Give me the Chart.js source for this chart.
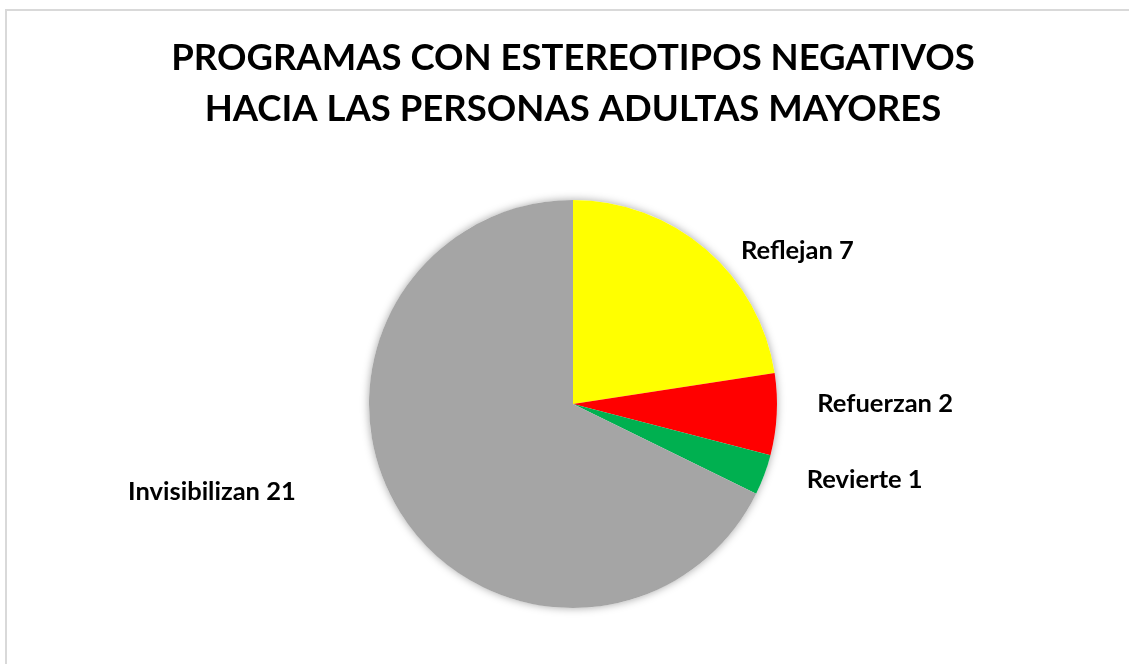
<!DOCTYPE html>
<html>
<head>
<meta charset="utf-8">
<script src="https://cdn.jsdelivr.net/npm/chart.js@4"></script>
<style>
    body { margin: 0; background: #fff; overflow: hidden; }
    #marco { position: absolute; left: 5px; top: 9px; width: 1200px; height: 700px; border: 2px solid #d9d9d9; }
    #lienzo { position: absolute; left: 0; top: 0; width: 1129px; height: 664px; }
</style>
</head>
<body>
<div id="marco"></div>
<div id="lienzo"><canvas id="grafica"></canvas></div>
<script>
// Programas con estereotipos negativos hacia las personas adultas mayores
const categorias = ['Reflejan', 'Refuerzan', 'Revierte', 'Invisibilizan'];
const valores = [7, 2, 1, 21];
const colores = ['#ffff00', '#ff0000', '#00b050', '#a5a5a5'];
const titulo = ['PROGRAMAS CON ESTEREOTIPOS NEGATIVOS', 'HACIA LAS PERSONAS ADULTAS MAYORES'];

// posición de cada etiqueta, en radios respecto al centro del pastel
const posEtiquetas = [
    [1.10, -0.75],
    [1.53, 0.0],
    [1.43, 0.37],
    [-1.77, 0.43]
];

const fuente = 'Lato, Carlito, Calibri, sans-serif';

// Título en dos líneas
const pluginTitulo = {
    id: 'tituloPropio',
    afterDraw(chart) {
        const ctx = chart.ctx;
        ctx.save();
        ctx.fillStyle = '#000';
        ctx.font = 'bold 36.5px ' + fuente;
        ctx.textAlign = 'center';
        ctx.textBaseline = 'middle';
        ctx.fillText(titulo[0], 573, 58);
        ctx.fillText(titulo[1], 573, 109);
        ctx.restore();
    }
};

// Sombra suave bajo el pastel
const pluginSombra = {
    id: 'sombra',
    beforeDatasetsDraw(chart) {
        const arco = chart.getDatasetMeta(0).data[0];
        if (!arco) return;
        const ctx = chart.ctx;
        ctx.save();
        ctx.shadowColor = 'rgba(0,0,0,0.35)';
        ctx.shadowBlur = 8;
        ctx.fillStyle = '#fff';
        ctx.beginPath();
        ctx.arc(arco.x, arco.y, arco.outerRadius, 0, Math.PI * 2);
        ctx.fill();
        ctx.restore();
    }
};

// Etiquetas "Categoría valor"
const pluginEtiquetas = {
    id: 'etiquetas',
    afterDatasetsDraw(chart) {
        const meta = chart.getDatasetMeta(0);
        const ctx = chart.ctx;
        ctx.save();
        ctx.fillStyle = '#000';
        ctx.font = 'bold 25.5px ' + fuente;
        ctx.textAlign = 'center';
        ctx.textBaseline = 'middle';
        meta.data.forEach((arco, i) => {
            const r = arco.outerRadius;
            const x = arco.x + posEtiquetas[i][0] * r;
            const y = arco.y + posEtiquetas[i][1] * r;
            ctx.fillText(categorias[i] + ' ' + valores[i], x, y);
        });
        ctx.restore();
    }
};

document.addEventListener('DOMContentLoaded', () => {
    const ctx = document.getElementById('grafica').getContext('2d');
    new Chart(ctx, {
        type: 'pie',
        data: {
            labels: categorias,
            datasets: [{
                data: valores,
                backgroundColor: colores,
                borderWidth: 0
            }]
        },
        options: {
            responsive: true,
            maintainAspectRatio: false,
            animation: false,
            layout: { padding: { top: 200, bottom: 56, left: 100, right: 83 } },
            plugins: {
                legend: { display: false },
                title: { display: false },
                tooltip: { enabled: false }
            }
        },
        plugins: [pluginSombra, pluginEtiquetas, pluginTitulo]
    });
});
</script>
</body>
</html>
